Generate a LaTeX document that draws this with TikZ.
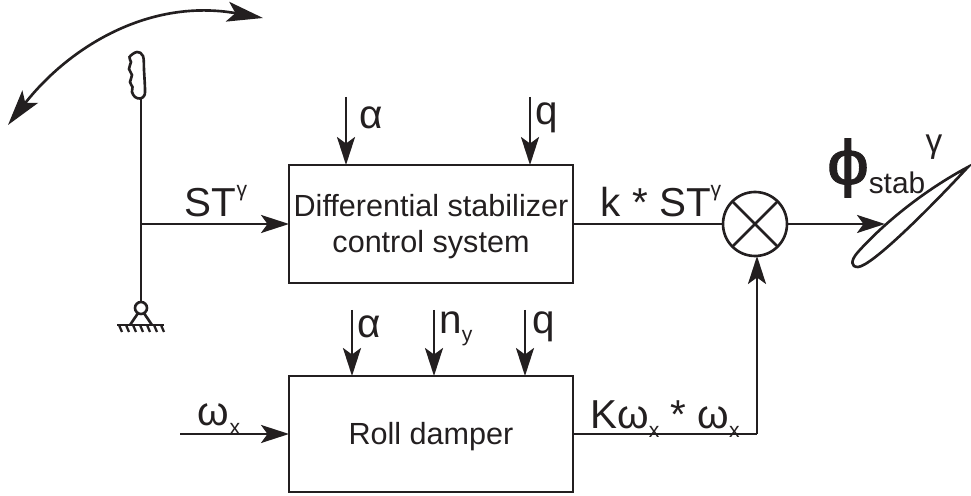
\documentclass[tikz,border=0pt]{standalone}
\usepackage{fontspec}
\setmainfont{Liberation Sans}
\newfontfamily\phifont[FakeBold=1.5, FakeStretch=1.2]{Liberation Sans}
\usetikzlibrary{arrows.meta}
\definecolor{c1}{HTML}{231F20}
\newcommand{\lowtxt}[1]{\raisebox{-0.4ex}{\fontsize{12pt}{12pt}\selectfont #1}}
\newcommand{\hightxt}[1]{\raisebox{0.95ex}{\fontsize{12pt}{12pt}\selectfont #1}}
\newcommand{\dropped}[1]{\raisebox{-1.5pt}[\height][\depth]{#1}}

\begin{document}
\begin{tikzpicture}[
    x=0.02cm, y=-0.02cm,
    every node/.style={text=c1, inner sep=0pt, outer sep=0pt},
    line/.style={line width=1.5pt, color=c1},
    arr/.style={-{Stealth[length=0.56cm, width=0.36cm, inset=0.13cm]}, line width=1.5pt, color=c1},
    lab/.style={font=\fontsize{23pt}{26pt}\selectfont},
    ctrl/.style={
        rectangle, draw=c1, line width=1.5pt, minimum width=5.68cm,
        align=center, font=\fontsize{17.4pt}{21pt}\selectfont,
    },
    mixer/.style={circle, draw=c1, line width=1.5pt, minimum size=1.28cm},
]
\useasboundingbox (0,0) rectangle (971,496);

% ================================================================ blocks
\node[ctrl, minimum height=2.36cm] (diff) at (431,224)
    {\dropped{Differential stabilizer}\\\dropped{control system}};
\node[ctrl, minimum height=2.32cm] (damper) at (431,434) {\dropped{Roll damper}};
\node[mixer] (sum) at (755,224) {};
\draw[line] (sum.45) -- (sum.225);
\draw[line] (sum.135) -- (sum.315);

% ================================================================ stick
\node[circle, draw=c1, line width=1.5pt, minimum size=0.24cm] (pivot) at (141,308) {};
\coordinate (grip) at (141,99);
\coordinate (tap) at (141,224);
\coordinate (gndl) at (117,325);
\coordinate (gndr) at (164,325);
\draw[line] plot[smooth cycle, tension=0.6] coordinates {
    (129.5,57) (131,62) (129,69) (132,75) (130,82) (132.5,87) (132,92) (135,97)
    (140,98.5) (144,96) (145,90) (144,70) (143,56) (137,52)};
\draw[line] (grip) -- (pivot.north);
\draw[line] (pivot.240) -- (130,325);
\draw[line] (pivot.300) -- (152,325);
\draw[line] (gndl) -- (gndr);
\foreach \x in {119,126,...,161}{
    \draw[line, line width=1.3pt] (\x,325) -- (\x+3,332);
}
\draw[{Stealth[length=0.72cm, width=0.4cm, inset=0.16cm]}-{Stealth[length=0.72cm, width=0.4cm, inset=0.16cm]},
    line width=1.5pt, color=c1] (8,125) .. controls (70,46) and (150,-2) .. (263,18);

% ================================================================ signal lines
\draw[arr] (tap) -- (diff.west);
\foreach \x/\n in {346/a, 530/b}{
    \coordinate (top\n) at (\x,97);
    \draw[arr] (top\n) -- (top\n |- diff.north);
}
\foreach \x/\n in {352/a, 434/b, 525/c}{
    \coordinate (mid\n) at (\x,310);
    \draw[arr] (mid\n) -- (mid\n |- damper.north);
}
\coordinate (rate) at (180,434);
\draw[arr] (rate) -- (damper.west);
\draw[line] (diff.east) -- (sum.west);
\coordinate (bend) at (757,434);
\draw[line] (damper.east) -- (bend);
\draw[arr] (bend) -- (bend |- sum.south);

% ================================================================ wing
\coordinate (tail) at (885,224);
\draw[arr] (sum.east) -- (tail);
\draw[line] (968,167) .. controls (925,190) and (885,222) .. (858,252)
    .. controls (850,261) and (851,267) .. (858,267)
    .. controls (872,266) and (930,208) .. (968,167) -- cycle;

% ================================================================ labels
\node[lab] (stlab) at (216,201) {ST\hightxt{γ}};
\node[lab] (kst) at (661,201) {k * ST\hightxt{γ}};
\node[lab] (kw) at (665,419) {Kω\lowtxt{x} * ω\lowtxt{x}};
\node[lab] (wx) at (219,419) {ω\lowtxt{x}};
\node[lab] (a1) at (371,118) {α};
\node[lab] (q1) at (547,118) {q};
\node[lab] (a2) at (369,327) {α};
\node[lab] (ny) at (456,329) {n\lowtxt{y}};
\node[lab] (q2) at (544,327) {q};
\node[font=\fontsize{36pt}{40pt}\selectfont\phifont] (phi) at (848,168) {ϕ};
\node[font=\fontsize{17pt}{20pt}\selectfont] (stab) at (897,183) {stab};
\node[font=\fontsize{19pt}{20pt}\selectfont] (gam) at (934,147) {γ};
\end{tikzpicture}
\end{document}
